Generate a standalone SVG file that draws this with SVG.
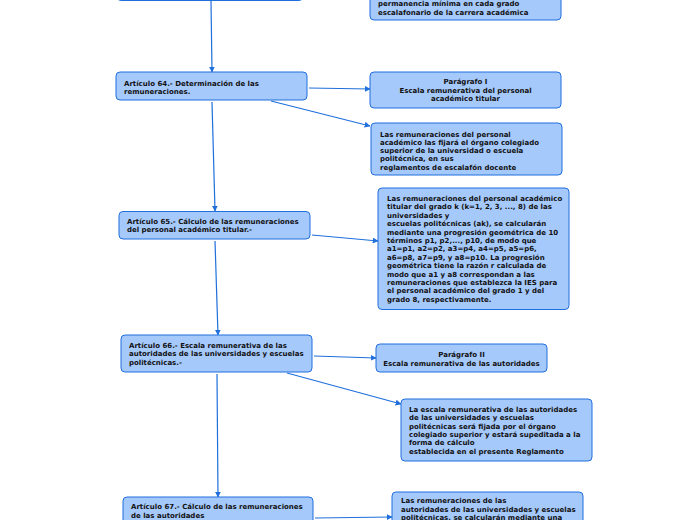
<svg xmlns="http://www.w3.org/2000/svg" width="697" height="520" viewBox="0 0 697 520">
<style>
.box{fill:#a6c9fc;stroke:#1f6fdc;stroke-width:1}
.t{font-family:"DejaVu Sans",Verdana,sans-serif;font-weight:bold;font-size:7px;fill:#111}
.c{text-anchor:middle}
.ln{stroke:#1f6fdc;stroke-width:1.2;fill:none;marker-end:url(#ah)}
</style>
<defs>
<marker id="ah" viewBox="0 0 10 10" refX="9" refY="5" markerWidth="6" markerHeight="6" orient="auto" markerUnits="userSpaceOnUse">
<path d="M0,0 L10,5 L0,10 z" fill="#1f6fdc"/>
</marker>
</defs>
<rect width="697" height="520" fill="#ffffff"/>
<g id="connectors">
<line class="ln" x1="211" y1="1" x2="212" y2="72"/>
<line class="ln" x1="309" y1="88" x2="370" y2="89"/>
<line class="ln" x1="271" y1="101" x2="370" y2="126"/>
<line class="ln" x1="212" y1="102" x2="215" y2="211"/>
<line class="ln" x1="312" y1="235" x2="378" y2="241"/>
<line class="ln" x1="215" y1="241" x2="218" y2="335"/>
<line class="ln" x1="314" y1="356" x2="376" y2="358"/>
<line class="ln" x1="287" y1="373" x2="401" y2="404"/>
<line class="ln" x1="217" y1="374" x2="218" y2="497"/>
<line class="ln" x1="315" y1="518" x2="392" y2="517"/>
</g>
<g id="node-top-left">
<rect class="box" x="117" y="-30" width="186" height="30.5" rx="4"/>
</g>
<g id="node-top-right">
<rect class="box" x="370" y="-40" width="191" height="60" rx="4"/>
<text class="t" x="378" y="6">permanencia mínima en cada grado</text>
<text class="t" x="378" y="14.5">escalafonario de la carrera académica</text>
</g>
<g id="art64">
<rect class="box" x="116" y="72" width="191" height="28" rx="4"/>
<text class="t" x="124" y="85.5">Artículo 64.- Determinación de las</text>
<text class="t" x="124" y="94">remuneraciones.</text>
</g>
<g id="paragrafo1">
<rect class="box" x="370" y="72" width="191" height="36" rx="4"/>
<text class="t c" x="465.5" y="84">Parágrafo I</text>
<text class="t c" x="465.5" y="92.5">Escala remunerativa del personal</text>
<text class="t c" x="465.5" y="101">académico titular</text>
</g>
<g id="remuneraciones-organo">
<rect class="box" x="371" y="123" width="191" height="52" rx="4"/>
<text class="t" x="380" y="136.5">Las remuneraciones del personal</text>
<text class="t" x="380" y="144.8">académico las fijará el órgano colegiado</text>
<text class="t" x="380" y="153.1">superior de la universidad o escuela</text>
<text class="t" x="380" y="161.4">politécnica, en sus</text>
<text class="t" x="380" y="169.7">reglamentos de escalafón docente</text>
</g>
<g id="art65">
<rect class="box" x="119" y="211.5" width="191" height="27.5" rx="4"/>
<text class="t" x="127" y="223.5">Artículo 65.- Cálculo de las remuneraciones</text>
<text class="t" x="127" y="232">del personal académico titular.-</text>
</g>
<g id="progresion">
<rect class="box" x="378" y="188" width="191" height="121.5" rx="4"/>
<text class="t" x="387" y="201">Las remuneraciones del personal académico</text>
<text class="t" x="387" y="209.4">titular del grado k (k=1, 2, 3, ..., 8) de las</text>
<text class="t" x="387" y="217.8">universidades y</text>
<text class="t" x="387" y="226.2">escuelas politécnicas (ak), se calcularán</text>
<text class="t" x="387" y="234.6">mediante una progresión geométrica de 10</text>
<text class="t" x="387" y="243">términos p1, p2,..., p10, de modo que</text>
<text class="t" x="387" y="251.4">a1=p1, a2=p2, a3=p4, a4=p5, a5=p6,</text>
<text class="t" x="387" y="259.8">a6=p8, a7=p9, y a8=p10. La progresión</text>
<text class="t" x="387" y="268.2">geométrica tiene la razón r calculada de</text>
<text class="t" x="387" y="276.6">modo que a1 y a8 correspondan a las</text>
<text class="t" x="387" y="285">remuneraciones que establezca la IES para</text>
<text class="t" x="387" y="293.4">el personal académico del grado 1 y del</text>
<text class="t" x="387" y="301.8">grado 8, respectivamente.</text>
</g>
<g id="art66">
<rect class="box" x="121" y="335" width="191" height="37" rx="4"/>
<text class="t" x="129" y="347.5">Artículo 66.- Escala remunerativa de las</text>
<text class="t" x="129" y="356">autoridades de las universidades y escuelas</text>
<text class="t" x="129" y="364.5">politécnicas.-</text>
</g>
<g id="paragrafo2">
<rect class="box" x="376" y="344" width="171" height="28" rx="4"/>
<text class="t c" x="461.5" y="357">Parágrafo II</text>
<text class="t c" x="461.5" y="365.5">Escala remunerativa de las autoridades</text>
</g>
<g id="escala-autoridades">
<rect class="box" x="401" y="399" width="191" height="62" rx="4"/>
<text class="t" x="409" y="412">La escala remunerativa de las autoridades</text>
<text class="t" x="409" y="420.3">de las universidades y escuelas</text>
<text class="t" x="409" y="428.6">politécnicas será fijada por el órgano</text>
<text class="t" x="409" y="436.9">colegiado superior y estará supeditada a la</text>
<text class="t" x="409" y="445.2">forma de cálculo</text>
<text class="t" x="409" y="453.5">establecida en el presente Reglamento</text>
</g>
<g id="art67">
<rect class="box" x="123" y="497" width="190" height="40" rx="4"/>
<text class="t" x="131" y="509">Artículo 67.- Cálculo de las remuneraciones</text>
<text class="t" x="131" y="517.5">de las autoridades</text>
</g>
<g id="remuneraciones-autoridades">
<rect class="box" x="392" y="492" width="191" height="50" rx="4"/>
<text class="t" x="401" y="503">Las remuneraciones de las</text>
<text class="t" x="401" y="511.5">autoridades de las universidades y escuelas</text>
<text class="t" x="401" y="520">politécnicas, se calcularán mediante una</text>
</g>
</svg>
